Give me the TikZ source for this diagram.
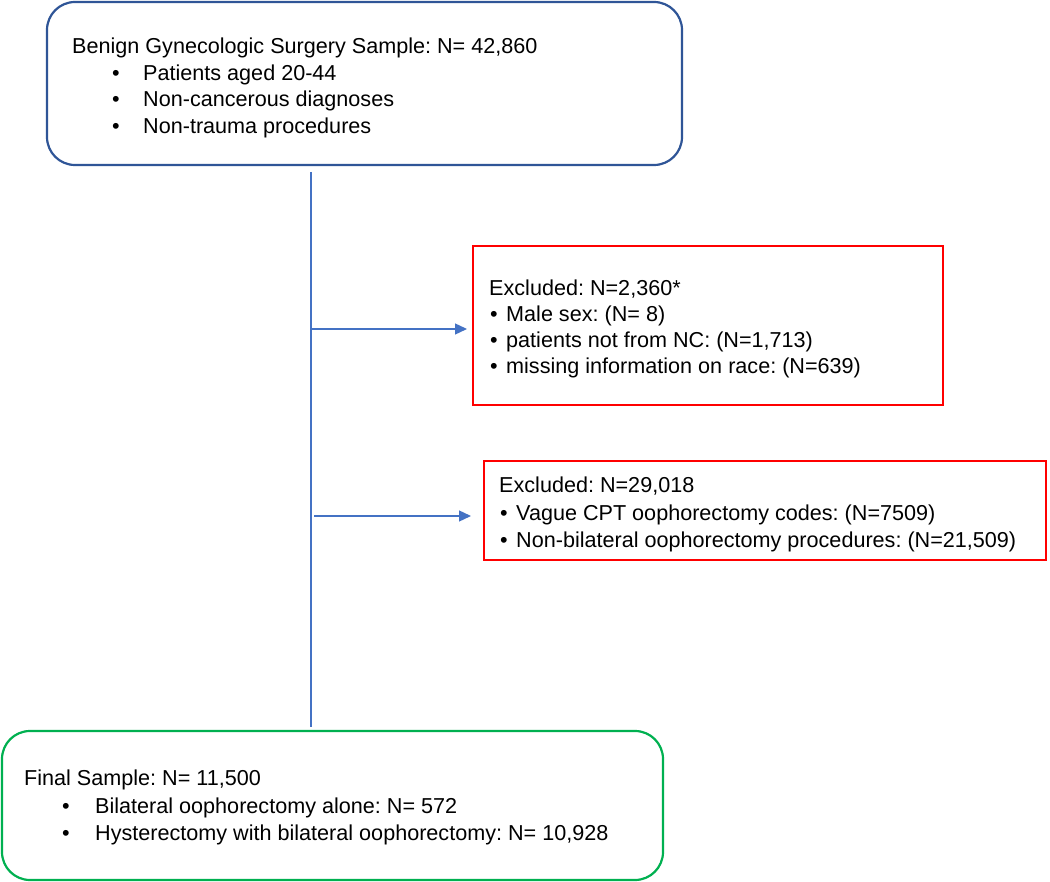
\documentclass[tikz,border=0pt]{standalone}
\usepackage{fontspec}
\setmainfont{Liberation Sans}
\usetikzlibrary{arrows.meta}
\definecolor{boxblue}{HTML}{2F5597}
\definecolor{lineblue}{HTML}{4472C4}
\definecolor{boxgreen}{HTML}{00B050}
\definecolor{boxred}{HTML}{FF0000}
\frenchspacing
\begin{document}
\begin{tikzpicture}[x=1pt,y=-1pt,
  txt/.style={anchor=base west, inner sep=0pt, font=\fontsize{21.6}{26}\selectfont\frenchspacing},
  bul/.style={anchor=base, inner sep=0pt, font=\fontsize{21.6}{26}\selectfont},
  frame/.style={draw, line width=2.2pt, inner sep=0pt, fill=white},
  roundframe/.style={frame, rounded corners=28pt},
  conn/.style={draw=lineblue, line width=1.3pt},
  arrowconn/.style={conn, -{Triangle[length=12pt,width=11pt]}, lineblue}]
\useasboundingbox (0,0) rectangle (1050,882);

% boxes
\node[roundframe, draw=boxblue, minimum width=635pt, minimum height=163pt] (sample) at (364.5,83.5) {};
\node[frame, draw=boxred, minimum width=470pt, minimum height=159pt] (excl1) at (708,325.5) {};
\node[frame, draw=boxred, minimum width=562pt, minimum height=99pt] (excl2) at (765,510.5) {};
\node[roundframe, draw=boxgreen, minimum width=661pt, minimum height=149pt] (final) at (332.5,805.5) {};

% connector coordinates
\coordinate (ltop) at (311,172);
\coordinate (lbot) at (311,727);
\coordinate (a1s) at (311,329);
\coordinate (a2s) at (314,516);
\coordinate (a1e) at (467,329);
\coordinate (a2e) at (471,516);

\draw[conn] (ltop) -- (lbot);
\draw[arrowconn] (a1s) -- (a1e);
\draw[arrowconn] (a2s) -- (a2e);

% box 1 text
\node[txt] (s0) at (72,54) {Benign Gynecologic Surgery Sample: N= 42,860};
\node[bul] (sb1) at (116,81) {•};
\node[txt] (s1) at (143,81) {Patients aged 20-44};
\node[bul] (sb2) at (116,107) {•};
\node[txt] (s2) at (143,107) {Non-cancerous diagnoses};
\node[bul] (sb3) at (116,134) {•};
\node[txt] (s3) at (143,134) {Non-trauma procedures};

% box 2 text
\node[txt] (e0) at (489,296) {Excluded: N=2,360*};
\node[bul] (eb1) at (494,322) {•};
\node[txt] (e1) at (506,322) {Male sex: (N= 8)};
\node[bul] (eb2) at (494,348) {•};
\node[txt] (e2) at (506,348) {patients not from NC: (N=1,713)};
\node[bul] (eb3) at (494,374) {•};
\node[txt] (e3) at (506,374) {missing information on race: (N=639)};

% box 3 text
\node[txt] (f0) at (499,493) {Excluded: N=29,018};
\node[bul] (fb1) at (504,520) {•};
\node[txt] (f1) at (516,520) {Vague CPT oophorectomy codes: (N=7509)};
\node[bul] (fb2) at (504,547) {•};
\node[txt] (f2) at (516,547) {Non-bilateral oophorectomy procedures: (N=21,509)};

% box 4 text
\node[txt] (g0) at (24,785) {Final Sample: N= 11,500};
\node[bul] (gb1) at (66,813) {•};
\node[txt] (g1) at (95,813) {Bilateral oophorectomy alone: N= 572};
\node[bul] (gb2) at (66,840) {•};
\node[txt] (g2) at (95,840) {Hysterectomy with bilateral oophorectomy: N= 10,928};
\end{tikzpicture}
\end{document}
